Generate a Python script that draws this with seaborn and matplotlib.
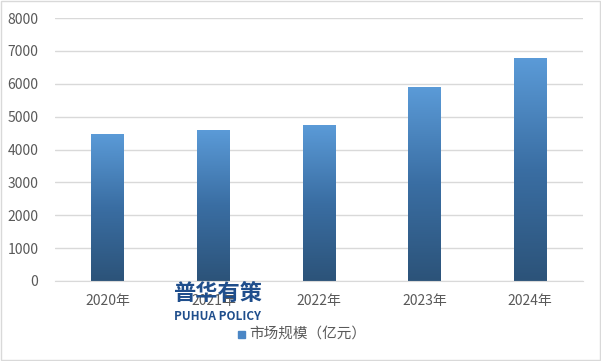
import matplotlib
matplotlib.use("Agg")
import matplotlib.pyplot as plt
import seaborn as sns
import numpy as np
import pandas as pd
from matplotlib.colors import LinearSegmentedColormap

# data
years = ['2020年', '2021年', '2022年', '2023年', '2024年']
market_size = [4480, 4600, 4750, 5910, 6790]
y_ticks = [0, 1000, 2000, 3000, 4000, 5000, 6000, 7000, 8000]
legend_label = '市场规模（亿元）'

sns.set_style("white")
plt.rcParams['font.family'] = ['Noto Sans CJK SC', 'DejaVu Sans']

df = pd.DataFrame({'year': years, 'value': market_size})

fig = plt.figure(figsize=(6.01, 3.61), dpi=100)
ax = fig.add_axes([55 / 601, 1 - 281 / 361, (583 - 55) / 601, (281 - 18) / 361])

sns.barplot(data=df, x='year', y='value', ax=ax, width=0.31, color='#4a86c5')

# vertical gradient fill for each bar
cmap = LinearSegmentedColormap.from_list('bar', ['#2c5379', '#3a6ea3', '#5b9bd8'])
grad = np.linspace(0, 1, 256).reshape(-1, 1)
for p in list(ax.patches):
    x0, y0 = p.get_x(), p.get_y()
    w, h = p.get_width(), p.get_height()
    im = ax.imshow(grad, cmap=cmap, aspect='auto', origin='lower',
                   extent=[x0, x0 + w, y0, y0 + h], zorder=p.get_zorder())
    im.set_clip_path(p)
    p.set_facecolor('none')
    p.set_edgecolor('none')

ax.set_xlim(-0.5, len(years) - 0.5)
ax.set_ylim(0, 8000)
ax.set_yticks(y_ticks)
ax.yaxis.grid(True, color='#d9d9d9', linewidth=1)
ax.set_axisbelow(True)
for s in ['top', 'right', 'left']:
    ax.spines[s].set_visible(False)
ax.spines['bottom'].set_color('#d9d9d9')
ax.tick_params(axis='both', length=0, labelsize=10, colors='#595959')
ax.tick_params(axis='y', pad=12)
ax.tick_params(axis='x', pad=9)
ax.set_xlabel('')
ax.set_ylabel('')

# legend
fig.patches.append(plt.Rectangle((238 / 601, 1 - 338 / 361), 7 / 601, 7 / 361,
                                 transform=fig.transFigure, color='#4a86c5'))
fig.text(249 / 601, 1 - 334 / 361, legend_label, fontsize=10.5, color='#595959',
         va='center', ha='left')

# watermark
fig.text(218 / 601, 1 - 293 / 361, '普华有策', fontsize=16, fontweight='bold',
         color='#1f4e8c', ha='center', va='center')
fig.text(218 / 601, 1 - 316 / 361, 'PUHUA POLICY', fontsize=8.5, fontweight='bold',
         color='#1f4e8c', ha='center', va='center')

# outer border
fig.patches.append(plt.Rectangle((0.001, 0.002), 0.997, 0.995, transform=fig.transFigure,
                                 fill=False, edgecolor='#d9d9d9', linewidth=1))

fig.savefig('out.png', dpi=100)
